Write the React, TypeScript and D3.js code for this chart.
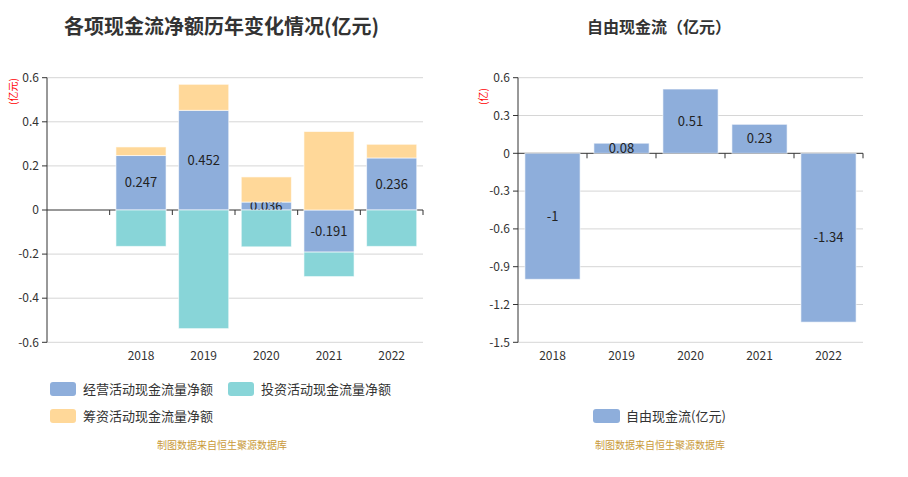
import React from "react";
import * as d3 from "d3";

const years = ["2018", "2019", "2020", "2021", "2022"];
const leftCategories = ["", ...years];
const operating = [0.247, 0.452, 0.036, -0.191, 0.236];
const investing = [-0.165, -0.538, -0.167, -0.111, -0.165];
const financing = [0.039, 0.118, 0.114, 0.356, 0.062];
const freeCash = [-1, 0.08, 0.51, 0.23, -1.34];
const leftTicks = [0.6, 0.4, 0.2, 0, -0.2, -0.4, -0.6];
const rightTicks = [0.6, 0.3, 0, -0.3, -0.6, -0.9, -1.2, -1.5];
const seriesNames = ["经营活动现金流量净额", "投资活动现金流量净额", "筹资活动现金流量净额"];
const colors = ["#8eaedb", "#88d5d8", "#ffd899"];
const FONT = "'Noto Sans CJK SC', 'Noto Sans', sans-serif";

const fmtTick = (v: number) => (v === 0 ? "0" : String(+v.toFixed(2)));

function Axes({ x, y, ticks, left, right, top, bottom, cats }: any) {
  const y0 = y(0);
  const step = x.step();
  return (
    <g>
      {ticks.map((t: number) => (
        <g key={t}>
          {t !== 0 && (
            <line x1={left} x2={right} y1={y(t)} y2={y(t)} stroke="#d6d6d6" strokeWidth={1} />
          )}
          <line x1={left - 5} x2={left} y1={y(t)} y2={y(t)} stroke="#333" />
          <text x={left - 8} y={y(t)} dy="0.35em" textAnchor="end" fontSize={12} fill="#333" fontFamily={FONT}>
            {fmtTick(t)}
          </text>
        </g>
      ))}
      <line x1={left} x2={left} y1={top} y2={bottom} stroke="#333" />
      <line x1={left} x2={right} y1={y0} y2={y0} stroke="#333" />
      {cats.map((c: string, i: number) => (
        <g key={i}>
          <line x1={x(c)! + step} x2={x(c)! + step} y1={y0} y2={y0 + 5} stroke="#333" />
          <text x={x(c)! + step / 2} y={bottom + 13} dy="0.35em" textAnchor="middle" fontSize={12} fill="#333" fontFamily={FONT}>
            {c}
          </text>
        </g>
      ))}
    </g>
  );
}

export default function App() {
  const top = 77.7, bottom = 342.3;
  // Left chart
  const lx = d3.scaleBand().domain(leftCategories).range([47, 423]).paddingInner(0).paddingOuter(0);
  const ly = d3.scaleLinear().domain([-0.6, 0.6]).range([bottom, top]);
  const rows = years.map((yr, i) => ({ year: yr, op: operating[i], inv: investing[i], fin: financing[i] }));
  const stack = d3.stack<any>().keys(["op", "inv", "fin"]).offset(d3.stackOffsetDiverging);
  const stacked = stack(rows);
  const lbw = lx.bandwidth() * 0.8;

  // Right chart
  const rx = d3.scaleBand().domain(years).range([518, 863]).paddingInner(0).paddingOuter(0);
  const ry = d3.scaleLinear().domain([-1.5, 0.6]).range([bottom, top]);
  const rbw = rx.bandwidth() * 0.8;

  return (
    <svg width={908} height={477} style={{ display: "block", position: "absolute", left: 0, top: 0, fontFamily: FONT }}>
      <g>
        {/* Titles */}
        <text x={64} y={27} dy="0.35em" fontSize={20} fontWeight="bold" fill="#333" fontFamily={FONT}>
          各项现金流净额历年变化情况(亿元)
        </text>
        <text x={587} y={27} dy="0.35em" fontSize={16} fontWeight="bold" fill="#333" fontFamily={FONT}>
          自由现金流（亿元）
        </text>

        {/* Left chart */}
        <text transform="translate(13,105) rotate(-90)" dy="0.35em" textAnchor="start" fontSize={10} fill="#f00" fontFamily={FONT}>
          (亿元)
        </text>
        <Axes x={lx} y={ly} ticks={leftTicks} left={47} right={423} top={top} bottom={bottom} cats={leftCategories} />
        {stacked.map((s, si) => (
          <g key={si}>
            {s.map((d, i) => {
              const x0 = lx(years[i])! + (lx.bandwidth() - lbw) / 2;
              const ya = ly(d[1]);
              const yb = ly(d[0]);
              return (
                <rect key={i} x={x0} y={Math.min(ya, yb)} width={lbw} height={Math.abs(yb - ya)}
                  fill={colors[si]} stroke="#fff" strokeOpacity={0.6} strokeWidth={1} />
              );
            })}
            {si === 0 &&
              s.map((d, i) => (
                <text key={"l" + i} x={lx(years[i])! + lx.bandwidth() / 2} y={(ly(d[0]) + ly(d[1])) / 2} dy="0.35em"
                  textAnchor="middle" fontSize={13} fill="#222" fontFamily={FONT}>
                  {operating[i]}
                </text>
              ))}
          </g>
        ))}

        {/* Right chart */}
        <text transform="translate(483,105) rotate(-90)" dy="0.35em" textAnchor="start" fontSize={10} fill="#f00" fontFamily={FONT}>
          (亿)
        </text>
        <Axes x={rx} y={ry} ticks={rightTicks} left={518} right={863} top={top} bottom={bottom} cats={years} />
        {freeCash.map((v, i) => {
          const x0 = rx(years[i])! + (rx.bandwidth() - rbw) / 2;
          const ya = ry(v), yb = ry(0);
          return (
            <g key={i}>
              <rect x={x0} y={Math.min(ya, yb)} width={rbw} height={Math.abs(yb - ya)}
                fill={colors[0]} stroke="#fff" strokeOpacity={0.6} strokeWidth={1} />
              <text x={rx(years[i])! + rx.bandwidth() / 2} y={(ya + yb) / 2} dy="0.35em" textAnchor="middle"
                fontSize={13} fill="#222" fontFamily={FONT}>
                {v}
              </text>
            </g>
          );
        })}

        {/* Legends */}
        {[
          { x: 50, y: 389, i: 0 },
          { x: 228, y: 389, i: 1 },
          { x: 50, y: 416, i: 2 },
        ].map((l) => (
          <g key={l.i}>
            <rect x={l.x} y={l.y - 7} width={26} height={14} rx={3} fill={colors[l.i]} />
            <text x={l.x + 33} y={l.y} dy="0.35em" fontSize={13} fill="#333" fontFamily={FONT}>
              {seriesNames[l.i]}
            </text>
          </g>
        ))}
        <rect x={593} y={409} width={27} height={14} rx={3} fill={colors[0]} />
        <text x={626} y={416} dy="0.35em" fontSize={13} fill="#333" fontFamily={FONT}>
          自由现金流(亿元)
        </text>

        {/* Source */}
        <text x={157} y={445} dy="0.35em" fontSize={10} fill="#c99a3a" fontFamily={FONT}>
          制图数据来自恒生聚源数据库
        </text>
        <text x={595} y={445} dy="0.35em" fontSize={10} fill="#c99a3a" fontFamily={FONT}>
          制图数据来自恒生聚源数据库
        </text>
      </g>
    </svg>
  );
}
